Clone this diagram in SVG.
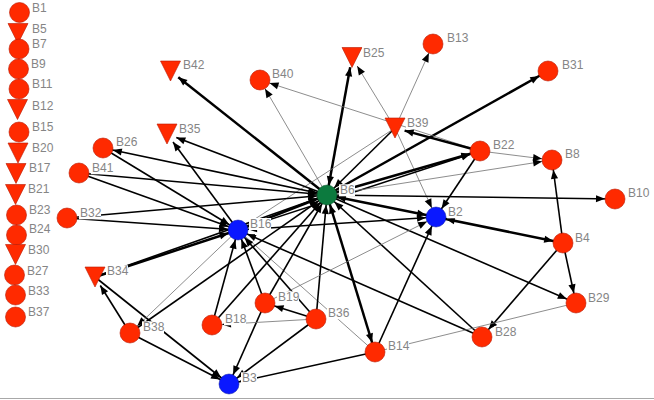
<svg xmlns="http://www.w3.org/2000/svg" width="654" height="400" viewBox="0 0 654 400">
<style>
.t{stroke:#000;stroke-width:2.5}
.m{stroke:#000;stroke-width:1.6}
.l{stroke:#707070;stroke-width:0.8}
.e{marker-end:url(#a)}
.s{marker-start:url(#a)}
.e0{marker-end:url(#a0)}
.r{fill:#ff2a00;stroke:#b81800;stroke-width:0.6}
.b{fill:#0a18ff;stroke:#0010a0;stroke-width:0.5}
.g{fill:#0c7a3e;stroke:#085028;stroke-width:0.5}
.bg{fill:#fff}
text{font-family:"Liberation Sans",Arial,sans-serif;font-size:12px;fill:#858585}
</style>
<defs>
<marker id="a" markerUnits="userSpaceOnUse" markerWidth="24" markerHeight="12" refX="20" refY="5" orient="auto-start-reverse" overflow="visible"><path d="M10,5 L1,1.4 L1,8.6 Z" fill="#000"/></marker>
<marker id="a0" markerUnits="userSpaceOnUse" markerWidth="24" markerHeight="12" refX="10" refY="5" orient="auto" overflow="visible"><path d="M10,5 L1,1.4 L1,8.6 Z" fill="#000"/></marker>
</defs>
<rect width="654" height="400" fill="#fff"/>
<line x1="0" y1="398.5" x2="654" y2="398.5" stroke="#a8a8a8" stroke-width="1"/>
<g id="edges">
<line x1="327" y1="195" x2="178.3" y2="77.2" class="t e0"/>
<line x1="327" y1="195" x2="350.2" y2="67.3" class="t e0 s"/>
<line x1="327" y1="195" x2="548" y2="71" class="t e"/>
<line x1="327" y1="195" x2="260" y2="80" class="l e"/>
<line x1="480" y1="151" x2="260" y2="80" class="l e"/>
<line x1="395" y1="128" x2="357.2" y2="66" class="l e0"/>
<line x1="395" y1="128" x2="433" y2="44" class="l e"/>
<line x1="395" y1="128" x2="436" y2="217" class="l e"/>
<line x1="480" y1="151" x2="404.6" y2="130.6" class="t e0"/>
<line x1="395" y1="128" x2="327" y2="195" class="m e"/>
<line x1="238" y1="230" x2="395" y2="128" class="l"/>
<line x1="327" y1="195" x2="480" y2="151" class="t e"/>
<line x1="238" y1="230" x2="480" y2="151" class="m e"/>
<line x1="327" y1="195" x2="552" y2="160" class="l e"/>
<line x1="480" y1="151" x2="552" y2="160" class="l e"/>
<line x1="480" y1="151" x2="436" y2="217" class="m e"/>
<line x1="327" y1="195" x2="615" y2="199" class="m e"/>
<line x1="327" y1="195" x2="436" y2="217" class="t e s"/>
<line x1="238" y1="230" x2="436" y2="217" class="m e s"/>
<line x1="436" y1="217" x2="563" y2="243" class="t e s"/>
<line x1="563" y1="243" x2="552" y2="160" class="m e"/>
<line x1="563" y1="243" x2="576" y2="303" class="m e"/>
<line x1="563" y1="243" x2="482" y2="337" class="m e"/>
<line x1="327" y1="195" x2="576" y2="303" class="m e"/>
<line x1="482" y1="337" x2="327" y2="195" class="m e"/>
<line x1="482" y1="337" x2="238" y2="230" class="m e"/>
<line x1="375" y1="352" x2="436" y2="217" class="m e"/>
<line x1="327" y1="195" x2="375" y2="352" class="t e s"/>
<line x1="375" y1="352" x2="576" y2="303" class="l"/>
<line x1="238" y1="230" x2="375" y2="352" class="l"/>
<line x1="375" y1="352" x2="229" y2="384" class="m e"/>
<line x1="316" y1="319" x2="229" y2="384" class="m e"/>
<line x1="265" y1="303" x2="229" y2="384" class="m e"/>
<line x1="130" y1="333" x2="229" y2="384" class="m e"/>
<line x1="95" y1="277" x2="229" y2="384" class="m e"/>
<line x1="130" y1="333" x2="100.3" y2="285.5" class="m e0"/>
<line x1="95" y1="277" x2="238" y2="230" class="t e"/>
<line x1="95" y1="277" x2="327" y2="195" class="m e"/>
<line x1="238" y1="230" x2="130" y2="333" class="l e"/>
<line x1="130" y1="333" x2="327" y2="195" class="m e"/>
<line x1="212" y1="325" x2="238" y2="230" class="m e"/>
<line x1="212" y1="325" x2="327" y2="195" class="m e"/>
<line x1="316" y1="319" x2="212" y2="325" class="l e"/>
<line x1="265" y1="303" x2="238" y2="230" class="m e"/>
<line x1="265" y1="303" x2="327" y2="195" class="m e"/>
<line x1="316" y1="319" x2="265" y2="303" class="m e"/>
<line x1="316" y1="319" x2="238" y2="230" class="m e"/>
<line x1="316" y1="319" x2="327" y2="195" class="m e"/>
<line x1="265" y1="303" x2="436" y2="217" class="l e"/>
<line x1="238" y1="230" x2="327" y2="195" class="t e"/>
<line x1="327" y1="195" x2="103" y2="148" class="m e s"/>
<line x1="103" y1="148" x2="238" y2="230" class="m e"/>
<line x1="79" y1="173" x2="327" y2="195" class="m e"/>
<line x1="79" y1="173" x2="238" y2="230" class="m e"/>
<line x1="67" y1="218" x2="327" y2="195" class="m e"/>
<line x1="67" y1="218" x2="238" y2="230" class="m e"/>
<line x1="327" y1="195" x2="176.3" y2="137.6" class="m e0"/>
<line x1="238" y1="230" x2="173" y2="142" class="m e0"/>
</g>
<g id="B1"><circle class="r" cx="19.5" cy="12.5" r="10"/><rect class="bg" x="31" y="1.6" width="16" height="12"/><text x="32" y="11.6">B1</text></g>
<g id="B5"><polygon class="r" points="8,23.5 28,23.5 18,43.5"/><rect class="bg" x="31" y="22.6" width="16" height="12"/><text x="32" y="32.6">B5</text></g>
<g id="B7"><circle class="r" cx="19" cy="49" r="10"/><rect class="bg" x="31" y="37.6" width="16" height="12"/><text x="32" y="47.6">B7</text></g>
<g id="B9"><circle class="r" cx="18.5" cy="69" r="10"/><rect class="bg" x="30" y="57.6" width="16" height="12"/><text x="31" y="67.6">B9</text></g>
<g id="B11"><circle class="r" cx="19" cy="89" r="10"/><rect class="bg" x="31" y="77.6" width="22" height="12"/><text x="32" y="87.6">B11</text></g>
<g id="B12"><polygon class="r" points="7.5,99.5 27.5,99.5 17.5,119.5"/><rect class="bg" x="31" y="100.3" width="22" height="12"/><text x="32" y="110.3">B12</text></g>
<g id="B15"><circle class="r" cx="19" cy="132" r="10"/><rect class="bg" x="31" y="121" width="22" height="12"/><text x="32" y="131">B15</text></g>
<g id="B20"><polygon class="r" points="8,143 28,143 18,163"/><rect class="bg" x="31" y="142" width="22" height="12"/><text x="32" y="152">B20</text></g>
<g id="B17"><polygon class="r" points="6,163.5 26,163.5 16,183.5"/><rect class="bg" x="28" y="162.3" width="22" height="12"/><text x="29" y="172.3">B17</text></g>
<g id="B21"><polygon class="r" points="5.5,184.5 25.5,184.5 15.5,204.5"/><rect class="bg" x="27" y="182.6" width="22" height="12"/><text x="28" y="192.6">B21</text></g>
<g id="B23"><circle class="r" cx="16.5" cy="215" r="10"/><rect class="bg" x="28" y="204.3" width="22" height="12"/><text x="29" y="214.3">B23</text></g>
<g id="B24"><circle class="r" cx="16.5" cy="235" r="10"/><rect class="bg" x="28" y="222.6" width="22" height="12"/><text x="29" y="232.6">B24</text></g>
<g id="B30"><polygon class="r" points="5.5,244.5 25.5,244.5 15.5,264.5"/><rect class="bg" x="27" y="244.3" width="22" height="12"/><text x="28" y="254.3">B30</text></g>
<g id="B27"><circle class="r" cx="14.5" cy="275" r="10"/><rect class="bg" x="26" y="265.3" width="22" height="12"/><text x="27" y="275.3">B27</text></g>
<g id="B33"><circle class="r" cx="15.5" cy="295" r="10"/><rect class="bg" x="27" y="285.3" width="22" height="12"/><text x="28" y="295.3">B33</text></g>
<g id="B37"><circle class="r" cx="15.5" cy="317" r="10"/><rect class="bg" x="27" y="306" width="22" height="12"/><text x="28" y="316">B37</text></g>
<g id="B13"><circle class="r" cx="433" cy="44" r="10"/><rect class="bg" x="446" y="32.3" width="22" height="12"/><text x="447" y="42.3">B13</text></g>
<g id="B25"><polygon class="r" points="342,47.5 362,47.5 352,67.5"/><rect class="bg" x="362" y="47.3" width="22" height="12"/><text x="363" y="57.3">B25</text></g>
<g id="B31"><circle class="r" cx="548" cy="71" r="10"/><rect class="bg" x="561" y="59.3" width="22" height="12"/><text x="562" y="69.3">B31</text></g>
<g id="B42"><polygon class="r" points="160.5,61 180.5,61 170.5,81"/><rect class="bg" x="182" y="59.3" width="22" height="12"/><text x="183" y="69.3">B42</text></g>
<g id="B40"><circle class="r" cx="260" cy="80" r="10"/><rect class="bg" x="271" y="68.3" width="22" height="12"/><text x="272" y="78.3">B40</text></g>
<g id="B39"><polygon class="r" points="385,118 405,118 395,138"/><rect class="bg" x="406" y="117.3" width="22" height="12"/><text x="407" y="127.3">B39</text></g>
<g id="B35"><polygon class="r" points="157,124 177,124 167,144"/><rect class="bg" x="178" y="123.3" width="22" height="12"/><text x="179" y="133.3">B35</text></g>
<g id="B26"><circle class="r" cx="103" cy="148" r="10"/><rect class="bg" x="115" y="136.3" width="22" height="12"/><text x="116" y="146.3">B26</text></g>
<g id="B22"><circle class="r" cx="480" cy="151" r="10"/><rect class="bg" x="492" y="139.3" width="22" height="12"/><text x="493" y="149.3">B22</text></g>
<g id="B8"><circle class="r" cx="552" cy="160" r="10"/><rect class="bg" x="564" y="148.3" width="16" height="12"/><text x="565" y="158.3">B8</text></g>
<g id="B41"><circle class="r" cx="79" cy="173" r="10"/><rect class="bg" x="91" y="162.3" width="22" height="12"/><text x="92" y="172.3">B41</text></g>
<g id="B10"><circle class="r" cx="615" cy="199" r="10"/><rect class="bg" x="627" y="187.3" width="22" height="12"/><text x="628" y="197.3">B10</text></g>
<g id="B32"><circle class="r" cx="67" cy="218" r="10"/><rect class="bg" x="79" y="207.3" width="22" height="12"/><text x="80" y="217.3">B32</text></g>
<g id="B4"><circle class="r" cx="563" cy="243" r="10"/><rect class="bg" x="574" y="232.3" width="16" height="12"/><text x="575" y="242.3">B4</text></g>
<g id="B34"><polygon class="r" points="85,267 105,267 95,287"/><rect class="bg" x="106" y="265.3" width="22" height="12"/><text x="107" y="275.3">B34</text></g>
<g id="B29"><circle class="r" cx="576" cy="303" r="10"/><rect class="bg" x="587" y="292.3" width="22" height="12"/><text x="588" y="302.3">B29</text></g>
<g id="B19"><circle class="r" cx="265" cy="303" r="10"/><rect class="bg" x="277" y="291.3" width="22" height="12"/><text x="278" y="301.3">B19</text></g>
<g id="B18"><circle class="r" cx="212" cy="325" r="10"/><rect class="bg" x="224" y="313.3" width="22" height="12"/><text x="225" y="323.3">B18</text></g>
<g id="B36"><circle class="r" cx="316" cy="319" r="10"/><rect class="bg" x="327" y="307.3" width="22" height="12"/><text x="328" y="317.3">B36</text></g>
<g id="B38"><circle class="r" cx="130" cy="333" r="10"/><rect class="bg" x="142" y="321.3" width="22" height="12"/><text x="143" y="331.3">B38</text></g>
<g id="B28"><circle class="r" cx="482" cy="337" r="10"/><rect class="bg" x="494" y="326.3" width="22" height="12"/><text x="495" y="336.3">B28</text></g>
<g id="B14"><circle class="r" cx="375" cy="352" r="10"/><rect class="bg" x="387" y="340.3" width="22" height="12"/><text x="388" y="350.3">B14</text></g>
<g id="B6"><circle class="g" cx="327" cy="195" r="10"/><rect class="bg" x="339" y="184.3" width="16" height="12"/><text x="340" y="194.3">B6</text></g>
<g id="B16"><circle class="b" cx="238" cy="230" r="10"/><rect class="bg" x="249" y="218" width="22" height="12"/><text x="250" y="228">B16</text></g>
<g id="B2"><circle class="b" cx="436" cy="217" r="10"/><rect class="bg" x="447" y="206.3" width="16" height="12"/><text x="448" y="216.3">B2</text></g>
<g id="B3"><circle class="b" cx="229" cy="384" r="10"/><rect class="bg" x="241" y="372.3" width="16" height="12"/><text x="242" y="382.3">B3</text></g>
</svg>
